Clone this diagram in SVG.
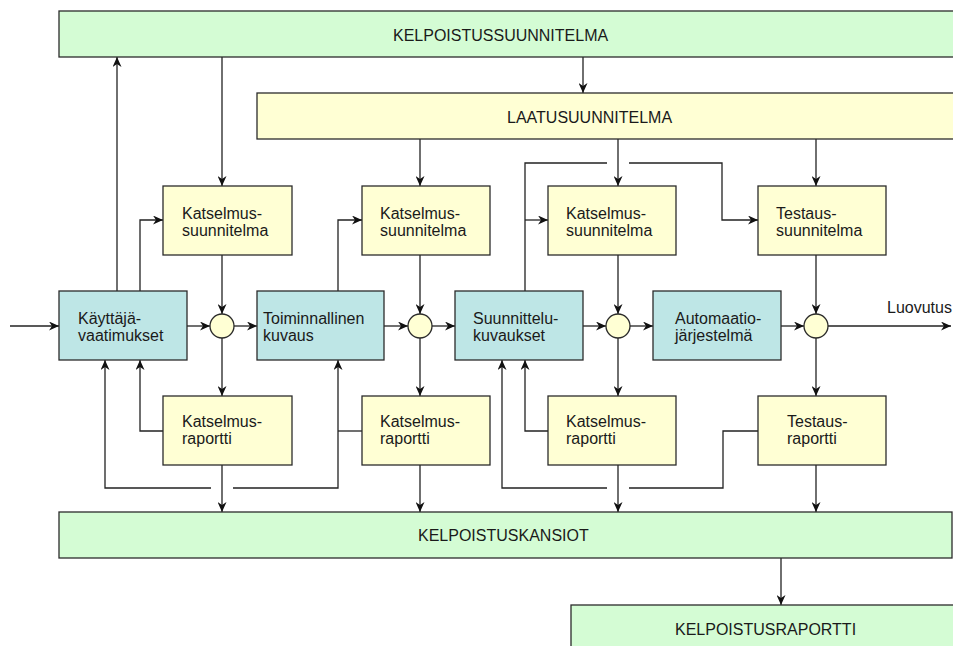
<svg xmlns="http://www.w3.org/2000/svg" width="953" height="646" viewBox="0 0 953 646">
  <style>
    .box { stroke: #2b2b2b; stroke-width: 1.3; }
    .green { fill: #d4fcd4; }
    .yellow { fill: #ffffd4; }
    .teal { fill: #bee6e6; }
    .node text, text { font-family: "Liberation Sans", Arial, sans-serif; font-size: 16px; fill: #1a1a1a; }
    .conn { fill: none; stroke: #222; stroke-width: 1.3; }
    .arr { marker-end: url(#head); }
    .join { fill: #ffffd4; stroke: #2b2b2b; stroke-width: 1.3; }
  </style>
  <defs>
    <marker id="head" markerUnits="userSpaceOnUse" markerWidth="11" markerHeight="9" refX="10" refY="4.5" orient="auto">
      <path d="M0,0 L10,4.5 L0,9 L3,4.5 Z" fill="#111"/>
    </marker>
  </defs>

  <rect width="953" height="646" fill="#ffffff"/>

  <!-- connectors -->
  <g id="connectors">
    <!-- main flow -->
    <path class="conn arr" d="M10,326 H59"/>
    <path class="conn arr" d="M187,326 H210"/>
    <path class="conn arr" d="M234,326 H257"/>
    <path class="conn arr" d="M384,326 H408"/>
    <path class="conn arr" d="M432,326 H455"/>
    <path class="conn arr" d="M583,326 H606"/>
    <path class="conn arr" d="M630,326 H653"/>
    <path class="conn arr" d="M781,326 H804"/>
    <path class="conn arr" d="M828,326 H951"/>

    <!-- plans downwards -->
    <path class="conn arr" d="M222,57 V186"/>
    <path class="conn arr" d="M583,57 V93"/>
    <path class="conn arr" d="M420,139 V186"/>
    <path class="conn arr" d="M618,139 V186"/>
    <path class="conn arr" d="M816,139 V186"/>

    <!-- plan boxes to joins -->
    <path class="conn arr" d="M222,255 V314"/>
    <path class="conn arr" d="M420,255 V314"/>
    <path class="conn arr" d="M618,255 V314"/>
    <path class="conn arr" d="M816,255 V314"/>

    <!-- joins to reports -->
    <path class="conn arr" d="M222,338 V396"/>
    <path class="conn arr" d="M420,338 V396"/>
    <path class="conn arr" d="M618,338 V396"/>
    <path class="conn arr" d="M816,338 V396"/>

    <!-- reports to folders -->
    <path class="conn arr" d="M222,465 V512"/>
    <path class="conn arr" d="M420,465 V512"/>
    <path class="conn arr" d="M618,465 V512"/>
    <path class="conn arr" d="M816,465 V512"/>
    <path class="conn arr" d="M781,558 V605"/>

    <!-- upward feeds -->
    <path class="conn arr" d="M117,291 V57"/>
    <path class="conn arr" d="M140,291 V220 H163"/>
    <path class="conn arr" d="M338,291 V220 H362"/>
    <path class="conn arr" d="M525,220 H548"/>
    <path class="conn" d="M525,291 V163 H607"/>
    <path class="conn arr" d="M629,163 H722 V220 H758"/>

    <!-- feedback from reports -->
    <path class="conn arr" d="M163,431 H140 V360"/>
    <path class="conn arr" d="M211,488 H105 V360"/>
    <path class="conn" d="M362,431 H338"/>
    <path class="conn arr" d="M233,488 H338 V360"/>
    <path class="conn arr" d="M548,431 H525 V360"/>
    <path class="conn arr" d="M607,488 H502 V360"/>
    <path class="conn" d="M629,488 H723 V431 H758"/>
  </g>

  <!-- wide bands -->
  <g id="kelpoistussuunnitelma" class="node">
    <rect class="box green" x="59" y="11" width="910" height="46"/>
    <text x="393" y="41">KELPOISTUSSUUNNITELMA</text>
  </g>
  <g id="laatusuunnitelma" class="node">
    <rect class="box yellow" x="257" y="93" width="710" height="46"/>
    <text x="507" y="123">LAATUSUUNNITELMA</text>
  </g>
  <g id="kelpoistuskansiot" class="node">
    <rect class="box green" x="59" y="512" width="893" height="46"/>
    <text x="418" y="541">KELPOISTUSKANSIOT</text>
  </g>
  <g id="kelpoistusraportti" class="node">
    <rect class="box green" x="571" y="605" width="400" height="60"/>
    <text x="675" y="635">KELPOISTUSRAPORTTI</text>
  </g>

  <!-- review plans -->
  <g id="katselmussuunnitelma-1" class="node">
    <rect class="box yellow" x="163" y="186" width="129" height="69"/>
    <text x="182" y="219">Katselmus-</text>
    <text x="182" y="236">suunnitelma</text>
  </g>
  <g id="katselmussuunnitelma-2" class="node">
    <rect class="box yellow" x="362" y="186" width="128" height="69"/>
    <text x="380" y="219">Katselmus-</text>
    <text x="380" y="236">suunnitelma</text>
  </g>
  <g id="katselmussuunnitelma-3" class="node">
    <rect class="box yellow" x="548" y="186" width="128" height="69"/>
    <text x="566" y="219">Katselmus-</text>
    <text x="566" y="236">suunnitelma</text>
  </g>
  <g id="testaussuunnitelma" class="node">
    <rect class="box yellow" x="758" y="186" width="128" height="69"/>
    <text x="776" y="219">Testaus-</text>
    <text x="776" y="236">suunnitelma</text>
  </g>

  <!-- main work products -->
  <g id="kayttajavaatimukset" class="node">
    <rect class="box teal" x="59" y="291" width="128" height="69"/>
    <text x="78" y="324">Käyttäjä-</text>
    <text x="78" y="341">vaatimukset</text>
  </g>
  <g id="toiminnallinen-kuvaus" class="node">
    <rect class="box teal" x="257" y="291" width="127" height="69"/>
    <text x="263" y="324">Toiminnallinen</text>
    <text x="263" y="341">kuvaus</text>
  </g>
  <g id="suunnittelukuvaukset" class="node">
    <rect class="box teal" x="455" y="291" width="128" height="69"/>
    <text x="473" y="324">Suunnittelu-</text>
    <text x="473" y="341">kuvaukset</text>
  </g>
  <g id="automaatiojarjestelma" class="node">
    <rect class="box teal" x="653" y="291" width="128" height="69"/>
    <text x="675" y="324">Automaatio-</text>
    <text x="675" y="341">järjestelmä</text>
  </g>

  <!-- join points -->
  <g id="join-1"><circle class="join" cx="222" cy="326" r="12"/></g>
  <g id="join-2"><circle class="join" cx="420" cy="326" r="12"/></g>
  <g id="join-3"><circle class="join" cx="618" cy="326" r="12"/></g>
  <g id="join-4"><circle class="join" cx="816" cy="326" r="12"/></g>

  <!-- reports -->
  <g id="katselmusraportti-1" class="node">
    <rect class="box yellow" x="163" y="396" width="129" height="69"/>
    <text x="182" y="427">Katselmus-</text>
    <text x="182" y="444">raportti</text>
  </g>
  <g id="katselmusraportti-2" class="node">
    <rect class="box yellow" x="362" y="396" width="128" height="69"/>
    <text x="380" y="427">Katselmus-</text>
    <text x="380" y="444">raportti</text>
  </g>
  <g id="katselmusraportti-3" class="node">
    <rect class="box yellow" x="548" y="396" width="128" height="69"/>
    <text x="566" y="427">Katselmus-</text>
    <text x="566" y="444">raportti</text>
  </g>
  <g id="testausraportti" class="node">
    <rect class="box yellow" x="758" y="396" width="128" height="69"/>
    <text x="787" y="427">Testaus-</text>
    <text x="787" y="444">raportti</text>
  </g>

  <g id="luovutus">
    <text x="887" y="313">Luovutus</text>
  </g>
</svg>
